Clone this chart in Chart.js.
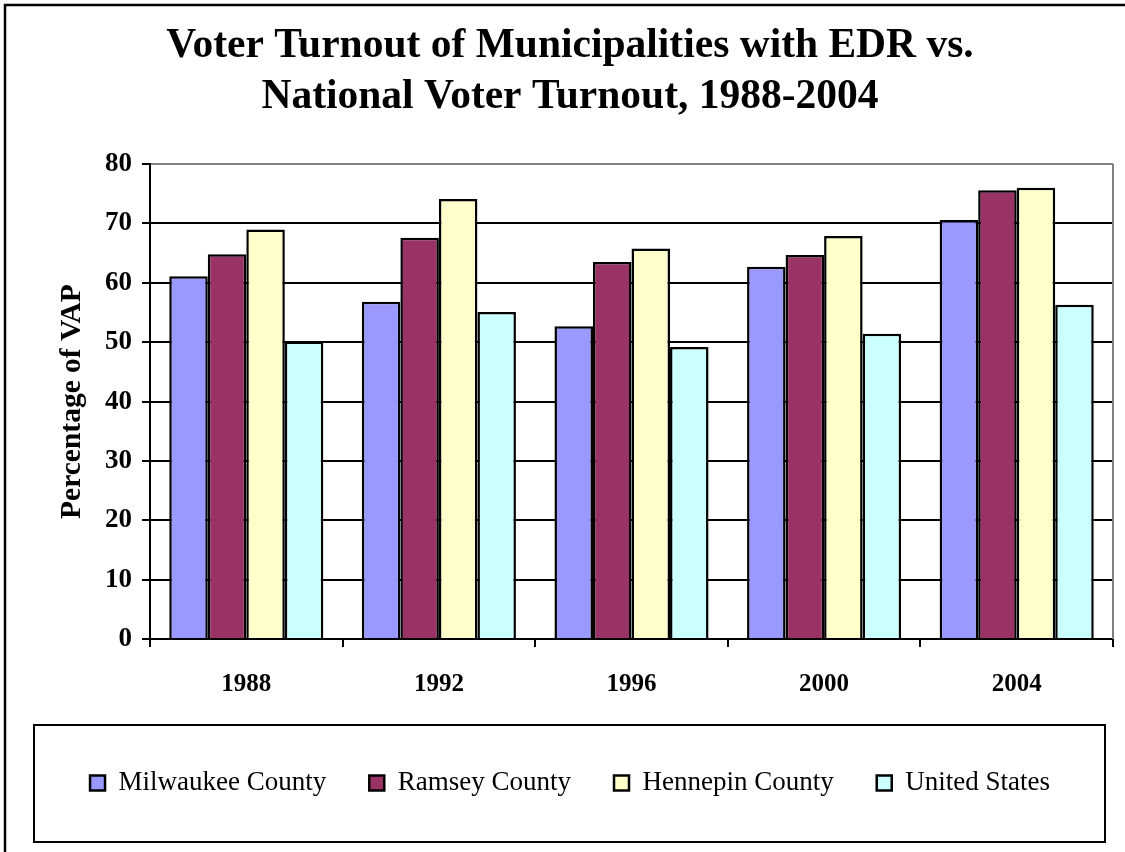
<!DOCTYPE html>
<html><head><meta charset="utf-8">
<script src="https://cdn.jsdelivr.net/npm/chart.js@4"></script>
<style>html,body{margin:0;padding:0;background:#fff}#wrap{width:1125px;height:852px;position:relative}</style>
</head><body><div id="wrap"><canvas id="c"></canvas></div>
<script>
const years = ['1988', '1992', '1996', '2000', '2004'];
const milwaukee = [61.1, 56.8, 52.7, 62.7, 70.6];
const ramsey = [64.8, 67.6, 63.5, 64.7, 75.6];
const hennepin = [69.0, 74.1, 65.8, 67.9, 76.0];
const unitedStates = [50.1, 55.1, 49.2, 51.4, 56.3];
const seriesNames = ['Milwaukee County', 'Ramsey County', 'Hennepin County', 'United States'];
const seriesColors = ['#9999FF', '#993366', '#FFFFCC', '#CCFFFF'];
const yMin = 0, yMax = 80, yStep = 10;
const titleLines = ['Voter Turnout of Municipalities with EDR vs.', 'National Voter Turnout, 1988-2004'];
const yTitle = 'Percentage of VAP';

Chart.defaults.font.family = "'Liberation Serif', 'Times New Roman', serif";
Chart.defaults.color = '#000';

const framePlugin = {
  id: 'frame',
  beforeDraw(chart) {
    const ctx = chart.ctx;
    ctx.save();
    ctx.fillStyle = '#fff';
    ctx.fillRect(0, 0, chart.width, chart.height);
    ctx.strokeStyle = '#000';
    ctx.lineWidth = 2.5;
    ctx.beginPath();
    ctx.moveTo(5, chart.height + 5);
    ctx.lineTo(5, 5);
    ctx.lineTo(chart.width + 5, 5);
    ctx.stroke();
    ctx.restore();
  },
  beforeDatasetsDraw(chart) {
    const a = chart.chartArea, ctx = chart.ctx;
    ctx.save();
    ctx.strokeStyle = '#808080';
    ctx.lineWidth = 2;
    ctx.beginPath();
    ctx.moveTo(a.right, a.top);
    ctx.lineTo(a.right, a.bottom);
    ctx.stroke();
    ctx.restore();
  },
  afterDraw(chart) {
    const ctx = chart.ctx;
    ctx.save();
    ctx.strokeStyle = '#000';
    ctx.lineWidth = 2;
    ctx.strokeRect(34, 725, 1071, 117);
    ctx.restore();
  }
};

const datasets = [milwaukee, ramsey, hennepin, unitedStates].map((d, i) => ({
  label: seriesNames[i],
  data: d,
  backgroundColor: seriesColors[i],
  borderColor: '#000',
  borderWidth: 2.5,
  categoryPercentage: 0.8,
  barPercentage: 1.0
}));

new Chart(document.getElementById('c'), {
  type: 'bar',
  data: { labels: years, datasets },
  plugins: [framePlugin],
  options: {
    responsive: true,
    maintainAspectRatio: false,
    animation: false,
    layout: { padding: { left: 27, right: 12, top: 0, bottom: 45.5 } },
    plugins: {
      title: {
        display: true,
        text: titleLines,
        font: { size: 41.5, weight: 'bold', lineHeight: 1.23 },
        color: '#000',
        padding: { top: 21, bottom: 41 }
      },
      legend: {
        position: 'bottom',
        labels: {
          boxWidth: 15,
          boxHeight: 15,
          padding: 43,
          color: '#000',
          font: { size: 27 }
        }
      },
      tooltip: { enabled: false }
    },
    scales: {
      x: {
        afterFit(s) { s.height = 87.5; },
        grid: { display: true, drawOnChartArea: false, offset: true, tickLength: 8, color: '#000', lineWidth: 2 },
        border: { display: true, color: '#000', width: 2 },
        ticks: { color: '#000', padding: 23, font: { size: 25, weight: 'bold' } }
      },
      y: {
        min: yMin,
        max: yMax,
        afterFit(s) { s.width = 123; },
        ticks: { stepSize: yStep, color: '#000', padding: 10, font: { size: 27, weight: 'bold' } },
        grid: {
          color: (c) => (c.tick && c.tick.value === yMax) ? '#808080' : '#000',
          tickColor: '#000',
          lineWidth: 2,
          tickLength: 8
        },
        border: { display: true, color: '#000', width: 2 },
        title: {
          display: true,
          text: yTitle,
          color: '#000',
          font: { size: 29.5, weight: 'bold' },
          padding: { top: 28, bottom: 0 }
        }
      }
    }
  }
});
</script>
</body></html>
